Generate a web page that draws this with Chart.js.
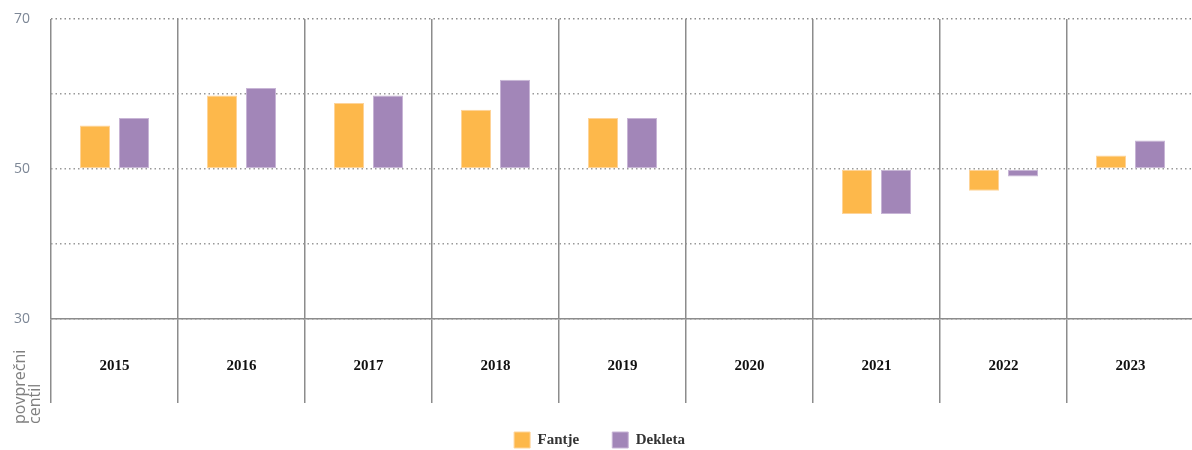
<!DOCTYPE html>
<html>
<head>
<meta charset="utf-8">
<script src="https://cdn.jsdelivr.net/npm/chart.js@4/dist/chart.umd.min.js"></script>
<style>
  html, body { margin: 0; padding: 0; background: #fff; overflow: hidden; }
  #wrap { width: 1196px; height: 450px; }
</style>
</head>
<body>
<div id="wrap"><canvas id="graf" width="1196" height="450"></canvas></div>
<script>
// podatki odčitani s slike
const leta = ['2015', '2016', '2017', '2018', '2019', '2020', '2021', '2022', '2023'];
const fantje = [55.8, 59.8, 58.8, 57.9, 56.8, null, 44.0, 47.1, 51.8];
const dekleta = [56.8, 60.8, 59.8, 61.9, 56.8, null, 44.0, 49.0, 53.8];
const oznakeY = [30, 50, 70];
const naslovY = ['povprečni', 'centil'];

const OSNOVA = 50;

// naslov osi y spodaj levo, v dveh vrsticah
const naslovPlugin = {
  id: 'naslovY',
  afterDraw(chart) {
    const ctx = chart.ctx;
    ctx.save();
    ctx.font = '16px "Open Sans", sans-serif';
    ctx.fillStyle = '#808080';
    ctx.textAlign = 'left';
    ctx.textBaseline = 'alphabetic';
    const xs = [25, 40];
    naslovY.forEach((t, i) => {
      ctx.save();
      ctx.translate(xs[i], 424);
      ctx.rotate(-Math.PI / 2);
      ctx.fillText(t, 0, 0);
      ctx.restore();
    });
    ctx.restore();
  }
};

new Chart(document.getElementById('graf'), {
  type: 'bar',
  data: {
    labels: leta,
    datasets: [
      { label: 'Fantje', data: fantje, base: OSNOVA, backgroundColor: '#FDB84B', borderColor: '#FED49A', borderWidth: 1, borderSkipped: false },
      { label: 'Dekleta', data: dekleta, base: OSNOVA, backgroundColor: '#A286B8', borderColor: '#C8B5D6', borderWidth: 1, borderSkipped: false }
    ]
  },
  options: {
    responsive: false,
    animation: false,
    barPercentage: 0.77,
    categoryPercentage: 0.614,
    layout: { padding: { top: 19, right: 2, left: 5, bottom: -8 } },
    plugins: {
      tooltip: { enabled: false },
      legend: {
        position: 'bottom',
        labels: {
          boxWidth: 16, boxHeight: 16, padding: 33,
          color: '#333',
          font: { family: '"Liberation Serif", serif', size: 15, weight: 'bold' }
        }
      }
    },
    scales: {
      x: {
        afterFit: (s) => { s.height = 80; },
        grid: { offset: true, color: '#8c8c8c', lineWidth: 1.5, tickLength: 84 },
        border: { display: true, color: '#8c8c8c', width: 1.5 },
        ticks: {
          padding: -46,
          color: '#111',
          font: { family: '"Liberation Serif", serif', size: 15, weight: 'bold' }
        }
      },
      y: {
        min: 30, max: 70,
        afterFit: (s) => { s.width = 46; s.paddingTop = 10; s.paddingBottom = 10; },
        grid: { color: (c) => c.tick && c.tick.value === 70 ? '#8c8c8c' : '#999999', lineWidth: 1.5, drawTicks: false },
        border: { display: false, dash: [1.5, 3] },
        ticks: {
          stepSize: 10,
          padding: 21,
          color: '#7d8796',
          font: { family: '"Open Sans", sans-serif', size: 14 },
          callback: (v) => oznakeY.includes(v) ? String(v) : ''
        }
      }
    }
  },
  plugins: [naslovPlugin]
});
</script>
</body>
</html>
